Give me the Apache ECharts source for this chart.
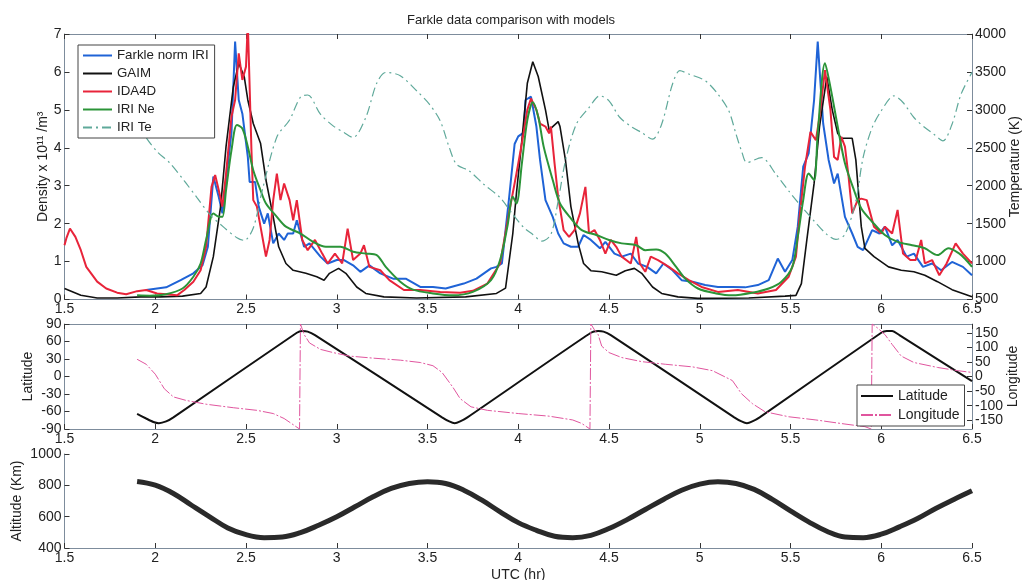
<!DOCTYPE html>
<html>
<head>
<meta charset="utf-8">
<script src="https://cdn.jsdelivr.net/npm/echarts@6/dist/echarts.min.js"></script>
<style>
  html, body { margin: 0; padding: 0; background: #fff; }
  #chart { width: 1022px; height: 580px; }
</style>
</head>
<body>
<div id="chart"></div>
<script>
// UTC hour, density (x 10^11 /m^3)
const farkleNormIri = [[1.95,0.25],[2.06,0.32],[2.14,0.51],[2.21,0.69],[2.26,0.9],[2.29,1.39],[2.32,3.24],[2.35,2.7],[2.37,2.27],[2.39,3.15],[2.42,4.4],[2.44,6.8],[2.46,5.26],[2.48,4.9],[2.51,3.76],[2.52,3.1],[2.55,3.1],[2.57,2.45],[2.6,2.0],[2.62,2.27],[2.65,1.48],[2.68,1.74],[2.71,1.57],[2.73,1.74],[2.76,1.74],[2.78,2.09],[2.82,1.39],[2.85,1.48],[2.91,1.13],[2.95,0.95],[3.0,1.04],[3.04,1.04],[3.09,0.9],[3.13,0.73],[3.18,0.9],[3.24,0.69],[3.31,0.55],[3.38,0.55],[3.46,0.33],[3.53,0.33],[3.6,0.29],[3.7,0.42],[3.77,0.55],[3.85,0.82],[3.88,0.86],[3.91,0.95],[3.95,2.7],[3.98,4.1],[4.0,4.3],[4.03,4.4],[4.04,5.26],[4.07,5.35],[4.1,4.56],[4.12,3.68],[4.15,2.62],[4.19,2.18],[4.22,1.74],[4.25,1.48],[4.29,1.39],[4.33,1.39],[4.36,1.7],[4.4,1.57],[4.45,1.35],[4.48,1.52],[4.53,1.21],[4.57,1.13],[4.62,1.21],[4.66,0.95],[4.71,0.86],[4.76,0.69],[4.8,0.95],[4.85,0.77],[4.9,0.51],[4.96,0.47],[5.03,0.38],[5.1,0.33],[5.18,0.33],[5.25,0.32],[5.32,0.38],[5.38,0.51],[5.43,1.08],[5.47,0.73],[5.51,1.04],[5.54,1.92],[5.57,3.5],[5.6,3.85],[5.63,5.26],[5.65,6.8],[5.68,4.64],[5.71,3.68],[5.74,3.06],[5.76,3.32],[5.8,2.18],[5.84,1.74],[5.87,1.39],[5.9,1.3],[5.95,1.83],[5.99,1.74],[6.02,1.92],[6.06,1.43],[6.09,1.57],[6.14,1.13],[6.18,1.21],[6.23,0.86],[6.28,0.95],[6.33,0.77],[6.39,0.99],[6.45,0.86],[6.5,0.64]];
const gaim = [[1.5,0.29],[1.59,0.11],[1.68,0.04],[1.79,0.04],[1.92,0.07],[2.03,0.07],[2.15,0.09],[2.25,0.16],[2.28,0.33],[2.32,1.13],[2.36,2.45],[2.39,4.03],[2.43,5.6],[2.46,6.23],[2.49,5.88],[2.51,5.26],[2.54,4.64],[2.58,4.12],[2.61,3.15],[2.65,2.18],[2.68,1.39],[2.72,0.95],[2.76,0.77],[2.83,0.69],[2.89,0.6],[2.93,0.51],[2.96,0.69],[3.01,0.82],[3.05,0.69],[3.11,0.33],[3.16,0.16],[3.26,0.07],[3.44,0.04],[3.71,0.07],[3.88,0.16],[3.93,0.3],[3.97,1.74],[3.99,2.8],[4.02,4.2],[4.05,5.7],[4.08,6.27],[4.11,5.88],[4.15,5.0],[4.17,4.47],[4.19,4.56],[4.22,4.69],[4.23,4.56],[4.26,3.68],[4.29,2.45],[4.33,1.48],[4.36,0.95],[4.4,0.76],[4.46,0.73],[4.54,0.64],[4.59,0.76],[4.64,0.82],[4.68,0.69],[4.74,0.33],[4.79,0.16],[4.88,0.07],[4.99,0.03],[5.27,0.04],[5.47,0.09],[5.53,0.11],[5.56,0.42],[5.59,1.57],[5.63,3.06],[5.66,4.56],[5.7,5.87],[5.73,5.0],[5.76,4.38],[5.78,4.25],[5.84,4.25],[5.86,3.68],[5.89,1.92],[5.91,1.35],[5.96,1.13],[6.04,0.86],[6.11,0.77],[6.18,0.73],[6.24,0.64],[6.31,0.47],[6.39,0.26],[6.5,0.07]];
const ida4d = [[1.5,1.43],[1.51,1.61],[1.53,1.87],[1.56,1.65],[1.59,1.3],[1.62,0.86],[1.68,0.47],[1.73,0.29],[1.79,0.18],[1.84,0.14],[1.9,0.22],[1.95,0.25],[2.01,0.16],[2.06,0.14],[2.12,0.11],[2.16,0.25],[2.21,0.47],[2.25,0.77],[2.28,1.39],[2.31,2.97],[2.33,3.28],[2.35,2.88],[2.37,2.45],[2.39,3.32],[2.42,4.82],[2.44,5.26],[2.46,6.49],[2.48,5.79],[2.5,6.14],[2.51,7.3],[2.53,3.94],[2.54,2.62],[2.56,2.45],[2.58,1.92],[2.6,1.39],[2.61,1.13],[2.63,1.57],[2.65,2.62],[2.67,3.32],[2.69,2.62],[2.71,3.06],[2.74,2.62],[2.76,2.09],[2.78,2.62],[2.81,1.57],[2.84,1.3],[2.88,1.57],[2.92,1.21],[2.95,0.95],[2.99,1.21],[3.03,0.95],[3.06,1.87],[3.09,1.04],[3.13,1.21],[3.15,1.43],[3.18,0.86],[3.24,0.77],[3.29,0.51],[3.37,0.25],[3.46,0.25],[3.57,0.2],[3.68,0.18],[3.75,0.23],[3.83,0.42],[3.9,0.95],[3.95,2.3],[3.99,3.32],[4.02,4.12],[4.05,5.0],[4.07,5.3],[4.1,5.0],[4.12,4.64],[4.15,4.56],[4.17,4.38],[4.18,4.56],[4.2,3.59],[4.22,2.7],[4.25,1.83],[4.28,1.65],[4.31,1.83],[4.34,2.27],[4.37,2.97],[4.39,1.74],[4.42,1.83],[4.45,1.57],[4.48,1.21],[4.51,1.57],[4.54,1.39],[4.57,1.13],[4.62,0.95],[4.65,1.65],[4.67,0.95],[4.7,0.73],[4.73,1.13],[4.77,1.04],[4.83,0.86],[4.88,0.69],[4.94,0.51],[5.01,0.33],[5.1,0.2],[5.21,0.25],[5.32,0.16],[5.42,0.25],[5.49,0.6],[5.53,1.13],[5.55,2.18],[5.58,3.5],[5.61,4.42],[5.64,4.2],[5.66,4.82],[5.69,6.05],[5.72,5.0],[5.74,3.76],[5.76,3.68],[5.78,4.29],[5.8,4.03],[5.82,3.24],[5.84,2.27],[5.87,2.62],[5.89,2.66],[5.92,2.62],[5.96,1.92],[6.0,1.74],[6.02,1.92],[6.06,1.74],[6.09,2.36],[6.12,1.21],[6.16,1.04],[6.19,1.04],[6.22,1.57],[6.24,0.95],[6.28,1.04],[6.32,0.64],[6.36,0.95],[6.41,1.48],[6.45,1.21],[6.5,0.95]];
const iriNe = [[1.9,0.11],[1.97,0.1],[2.06,0.14],[2.15,0.29],[2.21,0.6],[2.25,0.95],[2.28,1.57],[2.32,2.27],[2.35,2.18],[2.37,2.18],[2.39,2.88],[2.42,3.94],[2.45,4.6],[2.48,4.51],[2.51,4.03],[2.54,3.41],[2.58,2.88],[2.61,2.53],[2.67,2.18],[2.72,1.92],[2.8,1.74],[2.87,1.52],[2.94,1.39],[3.02,1.39],[3.09,1.26],[3.16,1.21],[3.22,1.17],[3.27,0.86],[3.35,0.47],[3.42,0.26],[3.53,0.16],[3.64,0.11],[3.75,0.2],[3.85,0.51],[3.9,1.04],[3.94,1.92],[3.97,2.71],[3.99,2.53],[4.02,3.59],[4.05,4.73],[4.08,5.2],[4.11,4.82],[4.14,4.03],[4.19,3.15],[4.23,2.53],[4.29,2.14],[4.35,1.83],[4.43,1.7],[4.5,1.57],[4.57,1.48],[4.65,1.43],[4.7,1.3],[4.76,1.32],[4.81,1.21],[4.87,0.86],[4.92,0.55],[4.99,0.29],[5.09,0.16],[5.18,0.11],[5.29,0.18],[5.38,0.29],[5.45,0.47],[5.51,0.86],[5.54,1.65],[5.57,2.62],[5.6,3.32],[5.63,3.15],[5.65,4.38],[5.69,6.23],[5.72,5.6],[5.76,4.56],[5.8,3.59],[5.85,2.88],[5.89,2.4],[5.95,2.05],[6.02,1.7],[6.09,1.52],[6.17,1.43],[6.24,1.35],[6.31,1.17],[6.37,1.35],[6.43,1.21],[6.46,1.08],[6.5,0.86]];
// UTC hour, electron temperature (K)
const iriTe = [[1.9,2850],[1.95,2635],[2.01,2450],[2.08,2300],[2.16,2063],[2.23,1843],[2.3,1623],[2.38,1447],[2.45,1315],[2.49,1279],[2.54,1442],[2.59,1943],[2.67,2642],[2.74,2866],[2.8,3169],[2.84,3196],[2.91,2943],[2.98,2789],[3.04,2701],[3.09,2635],[3.16,2900],[3.22,3350],[3.27,3493],[3.35,3450],[3.44,3252],[3.51,3076],[3.57,2855],[3.62,2503],[3.66,2283],[3.73,2195],[3.81,2019],[3.9,1843],[3.97,1623],[4.03,1450],[4.08,1358],[4.13,1270],[4.18,1358],[4.22,1799],[4.26,2327],[4.32,2811],[4.39,3031],[4.45,3185],[4.5,3119],[4.56,2899],[4.63,2767],[4.68,2701],[4.74,2613],[4.79,2811],[4.85,3340],[4.89,3516],[4.94,3472],[5.03,3384],[5.1,3208],[5.16,2987],[5.2,2679],[5.23,2459],[5.26,2305],[5.34,2371],[5.42,2151],[5.49,1931],[5.55,1755],[5.63,1535],[5.7,1358],[5.75,1292],[5.8,1358],[5.86,1799],[5.9,2371],[5.95,2767],[6.0,2987],[6.07,3185],[6.12,3097],[6.18,2899],[6.24,2767],[6.29,2679],[6.34,2591],[6.39,2811],[6.44,3208],[6.5,3494]];
// UTC hour, latitude (deg)
const latitude = [[1.9,-64],[1.95,-72],[1.99,-78],[2.02,-80],[2.06,-77],[2.1,-70],[2.78,75],[2.81,78],[2.84,77],[2.88,71],[3.58,-70],[3.62,-77],[3.65,-80],[3.68,-77],[3.72,-70],[4.4,75],[4.44,78],[4.47,77],[4.51,71],[5.19,-70],[5.23,-77],[5.26,-80],[5.29,-77],[5.33,-70],[6.0,75],[6.03,78],[6.06,78],[6.1,71],[6.5,-8]];
// UTC hour, longitude (deg)
const longitude = [[1.9,59],[1.95,42],[2.0,8],[2.05,-42],[2.1,-70],[2.17,-82],[2.28,-95],[2.43,-107],[2.56,-116],[2.65,-127],[2.71,-144],[2.75,-161],[2.795,-180],[2.8,180],[2.82,144],[2.85,115],[2.91,93],[2.98,82],[3.07,70],[3.2,63],[3.35,56],[3.46,48],[3.53,37],[3.58,14],[3.64,-37],[3.68,-76],[3.74,-104],[3.83,-116],[4.0,-127],[4.17,-136],[4.3,-149],[4.35,-161],[4.395,-180],[4.4,180],[4.42,160],[4.44,144],[4.46,104],[4.5,82],[4.57,65],[4.68,51],[4.81,42],[4.96,33],[5.07,20],[5.18,-14],[5.23,-59],[5.29,-93],[5.36,-121],[5.49,-138],[5.64,-149],[5.8,-163],[5.91,-172],[5.945,-180],[5.95,180],[5.98,166],[6.02,144],[6.06,110],[6.11,70],[6.18,48],[6.31,31],[6.42,20],[6.5,14]];
// UTC hour, altitude (km)
const altitude = [[1.9,825],[2.0,801],[2.1,748],[2.2,673],[2.3,599],[2.4,528],[2.5,485],[2.6,466],[2.7,470],[2.8,498],[2.9,545],[3.0,599],[3.1,663],[3.2,727],[3.3,780],[3.4,812],[3.5,823],[3.6,812],[3.7,769],[3.8,705],[3.9,631],[4.0,562],[4.1,513],[4.2,475],[4.3,466],[4.4,481],[4.5,524],[4.6,581],[4.7,646],[4.8,710],[4.9,769],[5.0,808],[5.1,823],[5.2,812],[5.3,774],[5.4,710],[5.5,637],[5.6,567],[5.7,507],[5.8,470],[5.9,466],[6.0,488],[6.1,535],[6.2,588],[6.3,652],[6.4,710],[6.5,765]];
const lonTicks = [-150, -100, -50, 0, 50, 100, 150];

let chart = echarts.init(document.getElementById('chart'))
let font = 'Liberation Sans, Arial, sans-serif'
let frame = {show: true, onZero: false, lineStyle: {color: '#7d8c9c', width: 1}}
let tick = {show: true, inside: true, length: 5, lineStyle: {color: '#333'}}
let label = {color: '#222', fontSize: 14, fontFamily: font, margin: 3, formatter: v => String(v)}
let nameStyle = {color: '#222', fontSize: 14, fontFamily: font}

function timeAxis (grid, pos, showLabel, extra) {
  return Object.assign({
    type: 'value', gridIndex: grid, position: pos, min: 1.5, max: 6.5, interval: 0.5,
    axisLine: frame, axisTick: tick, splitLine: {show: false},
    axisLabel: Object.assign({}, label, {show: showLabel})
  }, extra || {})
}

function sideAxis (grid, pos, min, max, interval, name, gap) {
  return {
    type: 'value', gridIndex: grid, position: pos, min: min, max: max, interval: interval,
    name: name, nameLocation: 'middle', nameGap: gap, nameMoveOverlap: false, nameTextStyle: nameStyle,
    axisLine: frame, axisTick: tick, splitLine: {show: false}, axisLabel: label
  }
}

let lonAxis = sideAxis(1, 'right', -180, 180, null, 'Longitude', 34)
delete lonAxis.interval
lonAxis.axisTick = Object.assign({customValues: lonTicks}, tick)
lonAxis.axisLabel = Object.assign({customValues: lonTicks}, label)

let option = {
  backgroundColor: '#fff',
  animation: false,
  title: {
    text: 'Farkle data comparison with models', left: 'center', top: 9,
    textStyle: {fontSize: 13, fontWeight: 'normal', color: '#222', fontFamily: font}
  },
  grid: [
    {left: 64.5, right: 50, top: 34, height: 265.5, outerBoundsMode: 'none', containLabel: false},
    {left: 64.5, right: 50, top: 324, height: 105, outerBoundsMode: 'none', containLabel: false},
    {left: 64.5, right: 50, top: 454, height: 94, outerBoundsMode: 'none', containLabel: false}
  ],
  legend: [
    {
      orient: 'vertical', left: 78, top: 45, itemWidth: 29, itemHeight: 14, itemGap: 5,
      padding: [4, 6, 4, 4], backgroundColor: '#fff', borderColor: '#444', borderWidth: 1,
      itemStyle: {opacity: 0},
      textStyle: {fontSize: 13.3, fontFamily: font, color: '#222'},
      data: ['Farkle norm IRI', 'GAIM', 'IDA4D', 'IRI Ne', 'IRI Te']
    },
    {
      orient: 'vertical', left: 857, top: 385, itemWidth: 32, itemHeight: 14, itemGap: 5,
      padding: [4, 5, 4, 3], backgroundColor: '#fff', borderColor: '#444', borderWidth: 1,
      itemStyle: {opacity: 0},
      textStyle: {fontSize: 14, fontFamily: font, color: '#222'},
      data: ['Latitude', 'Longitude']
    }
  ],
  xAxis: [
    timeAxis(0, 'bottom', true),
    timeAxis(0, 'top', false),
    timeAxis(1, 'bottom', true),
    timeAxis(1, 'top', false),
    timeAxis(2, 'bottom', true, {name: 'UTC (hr)', nameLocation: 'middle', nameGap: 20, nameMoveOverlap: false, nameTextStyle: nameStyle})
  ],
  yAxis: [
    sideAxis(0, 'left', 0, 7, 1, 'Density x 10¹¹ /m³', 14),
    sideAxis(0, 'right', 500, 4000, 500, 'Temperature (K)', 36),
    sideAxis(1, 'left', -90, 90, 30, 'Latitude', 29),
    lonAxis,
    sideAxis(2, 'left', 400, 1000, 200, 'Altitude (Km)', 40)
  ],
  series: [
    {name: 'Farkle norm IRI', type: 'line', xAxisIndex: 0, yAxisIndex: 0, symbol: 'none', data: farkleNormIri,
      lineStyle: {color: '#1f63d6', width: 2}, itemStyle: {color: '#1f63d6'}},
    {name: 'GAIM', type: 'line', xAxisIndex: 0, yAxisIndex: 0, symbol: 'none', data: gaim,
      lineStyle: {color: '#111', width: 1.6}, itemStyle: {color: '#111'}},
    {name: 'IDA4D', type: 'line', xAxisIndex: 0, yAxisIndex: 0, symbol: 'none', data: ida4d,
      lineStyle: {color: '#e8243a', width: 2}, itemStyle: {color: '#e8243a'}},
    {name: 'IRI Ne', type: 'line', xAxisIndex: 0, yAxisIndex: 0, symbol: 'none', data: iriNe, smooth: 0.3,
      lineStyle: {color: '#2b9438', width: 2}, itemStyle: {color: '#2b9438'}},
    {name: 'IRI Te', type: 'line', xAxisIndex: 0, yAxisIndex: 1, symbol: 'none', data: iriTe, smooth: 0.3,
      lineStyle: {color: '#5fa99a', width: 1.2, type: [9, 4, 2, 4]}, itemStyle: {color: '#5fa99a'}},
    {name: 'Latitude', type: 'line', xAxisIndex: 2, yAxisIndex: 2, symbol: 'none', data: latitude, smooth: 0.2,
      lineStyle: {color: '#111', width: 2}, itemStyle: {color: '#111'}},
    {name: 'Longitude', type: 'line', xAxisIndex: 2, yAxisIndex: 3, symbol: 'none', data: longitude,
      lineStyle: {color: '#e0559e', width: 1, type: [12, 2, 2, 2]}, itemStyle: {color: '#e0559e'}},
    {name: 'Altitude', type: 'line', xAxisIndex: 4, yAxisIndex: 4, symbol: 'none', data: altitude, smooth: 0.4,
      lineStyle: {color: '#2a2a2a', width: 5}, itemStyle: {color: '#2a2a2a'}}
  ]
}
chart.setOption(option)
</script>
</body>
</html>
